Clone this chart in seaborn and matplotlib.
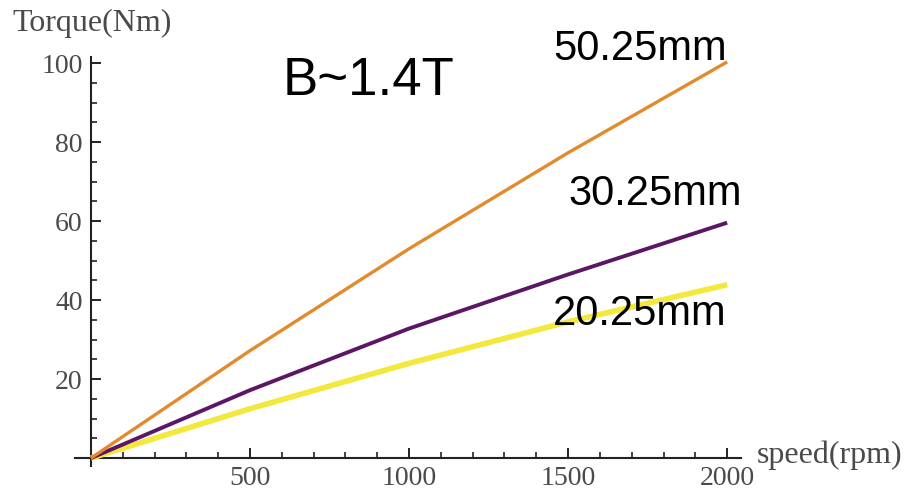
import matplotlib
matplotlib.use("Agg")
import matplotlib.pyplot as plt
from matplotlib.ticker import MultipleLocator, FixedLocator
import pandas as pd
import seaborn as sns

# Torque vs. speed for three magnet gap widths at B ~ 1.4 T
speed = [0, 500, 1000, 1500, 2000]
torque_50 = [0, 27.2, 53.0, 77.3, 100.3]
torque_30 = [0, 17.2, 32.8, 46.5, 59.6]
torque_20 = [0, 12.5, 24.0, 34.5, 43.9]
series_names = ["50.25mm", "30.25mm", "20.25mm"]
series_colors = ["#e38a2e", "#5c1665", "#f3e83c"]
series_widths = [2.4, 2.8, 4.0]

x_ticks = [500, 1000, 1500, 2000]
y_ticks = [20, 40, 60, 80, 100]

df = pd.DataFrame({
    "speed": speed * 3,
    "torque": torque_50 + torque_30 + torque_20,
    "gap": [series_names[0]] * 5 + [series_names[1]] * 5 + [series_names[2]] * 5,
})

sns.set_style("white")
plt.rcParams["font.family"] = ["Liberation Serif", "DejaVu Serif"]

fig = plt.figure(figsize=(9.08, 4.92), dpi=100)
ax = fig.add_axes([0.0826, 0.0528, 0.734, 0.831])

# yellow first so the darker curves sit on top
for i in [2, 1, 0]:
    sub = df[df["gap"] == series_names[i]]
    sns.lineplot(data=sub, x="speed", y="torque", color=series_colors[i],
                 linewidth=series_widths[i], ax=ax, legend=False,
                 solid_capstyle="butt", zorder=3 + (2 - i))

ax.set_xlim(-50, 2045)
ax.set_ylim(-2, 101.5)

for side in ("top", "right"):
    ax.spines[side].set_visible(False)
for side in ("left", "bottom"):
    ax.spines[side].set_position(("data", 0))
    ax.spines[side].set_color("#222222")
    ax.spines[side].set_linewidth(1.5)

ax.xaxis.set_major_locator(FixedLocator(x_ticks))
ax.xaxis.set_minor_locator(MultipleLocator(100))
ax.yaxis.set_major_locator(FixedLocator(y_ticks))
ax.yaxis.set_minor_locator(MultipleLocator(5))
ax.tick_params(which="both", bottom=True, left=True, top=False, right=False)
ax.tick_params(which="major", direction="in", length=7.5, width=1.4,
               color="#222222", labelsize=20, labelcolor="#4a4a4a", pad=6)
ax.tick_params(which="minor", direction="in", length=4.5, width=1.2,
               color="#222222")
ax.set_xlabel("")
ax.set_ylabel("")

fig.text(12 / 908, 1 - 31 / 492, "Torque(Nm)", fontsize=23, color="#4a4a4a",
         ha="left", va="baseline")
fig.text(757 / 908, 1 - 463 / 492, "speed(rpm)", fontsize=23, color="#4a4a4a",
         ha="left", va="baseline")

sans = ["Liberation Sans", "DejaVu Sans"]
ax.text(604, 91.9, "B~1.4T", family=sans, fontsize=38, color="black",
        ha="left", va="baseline")
ax.text(1453, 100.8, series_names[0], family=sans, fontsize=30, color="black",
        ha="left", va="baseline", zorder=10)
ax.text(1500, 64.0, series_names[1], family=sans, fontsize=30, color="black",
        ha="left", va="baseline", zorder=10)
ax.text(1453, 33.7, series_names[2], family=sans, fontsize=30, color="black",
        ha="left", va="baseline", zorder=10)

fig.savefig("out.png", dpi=100)
